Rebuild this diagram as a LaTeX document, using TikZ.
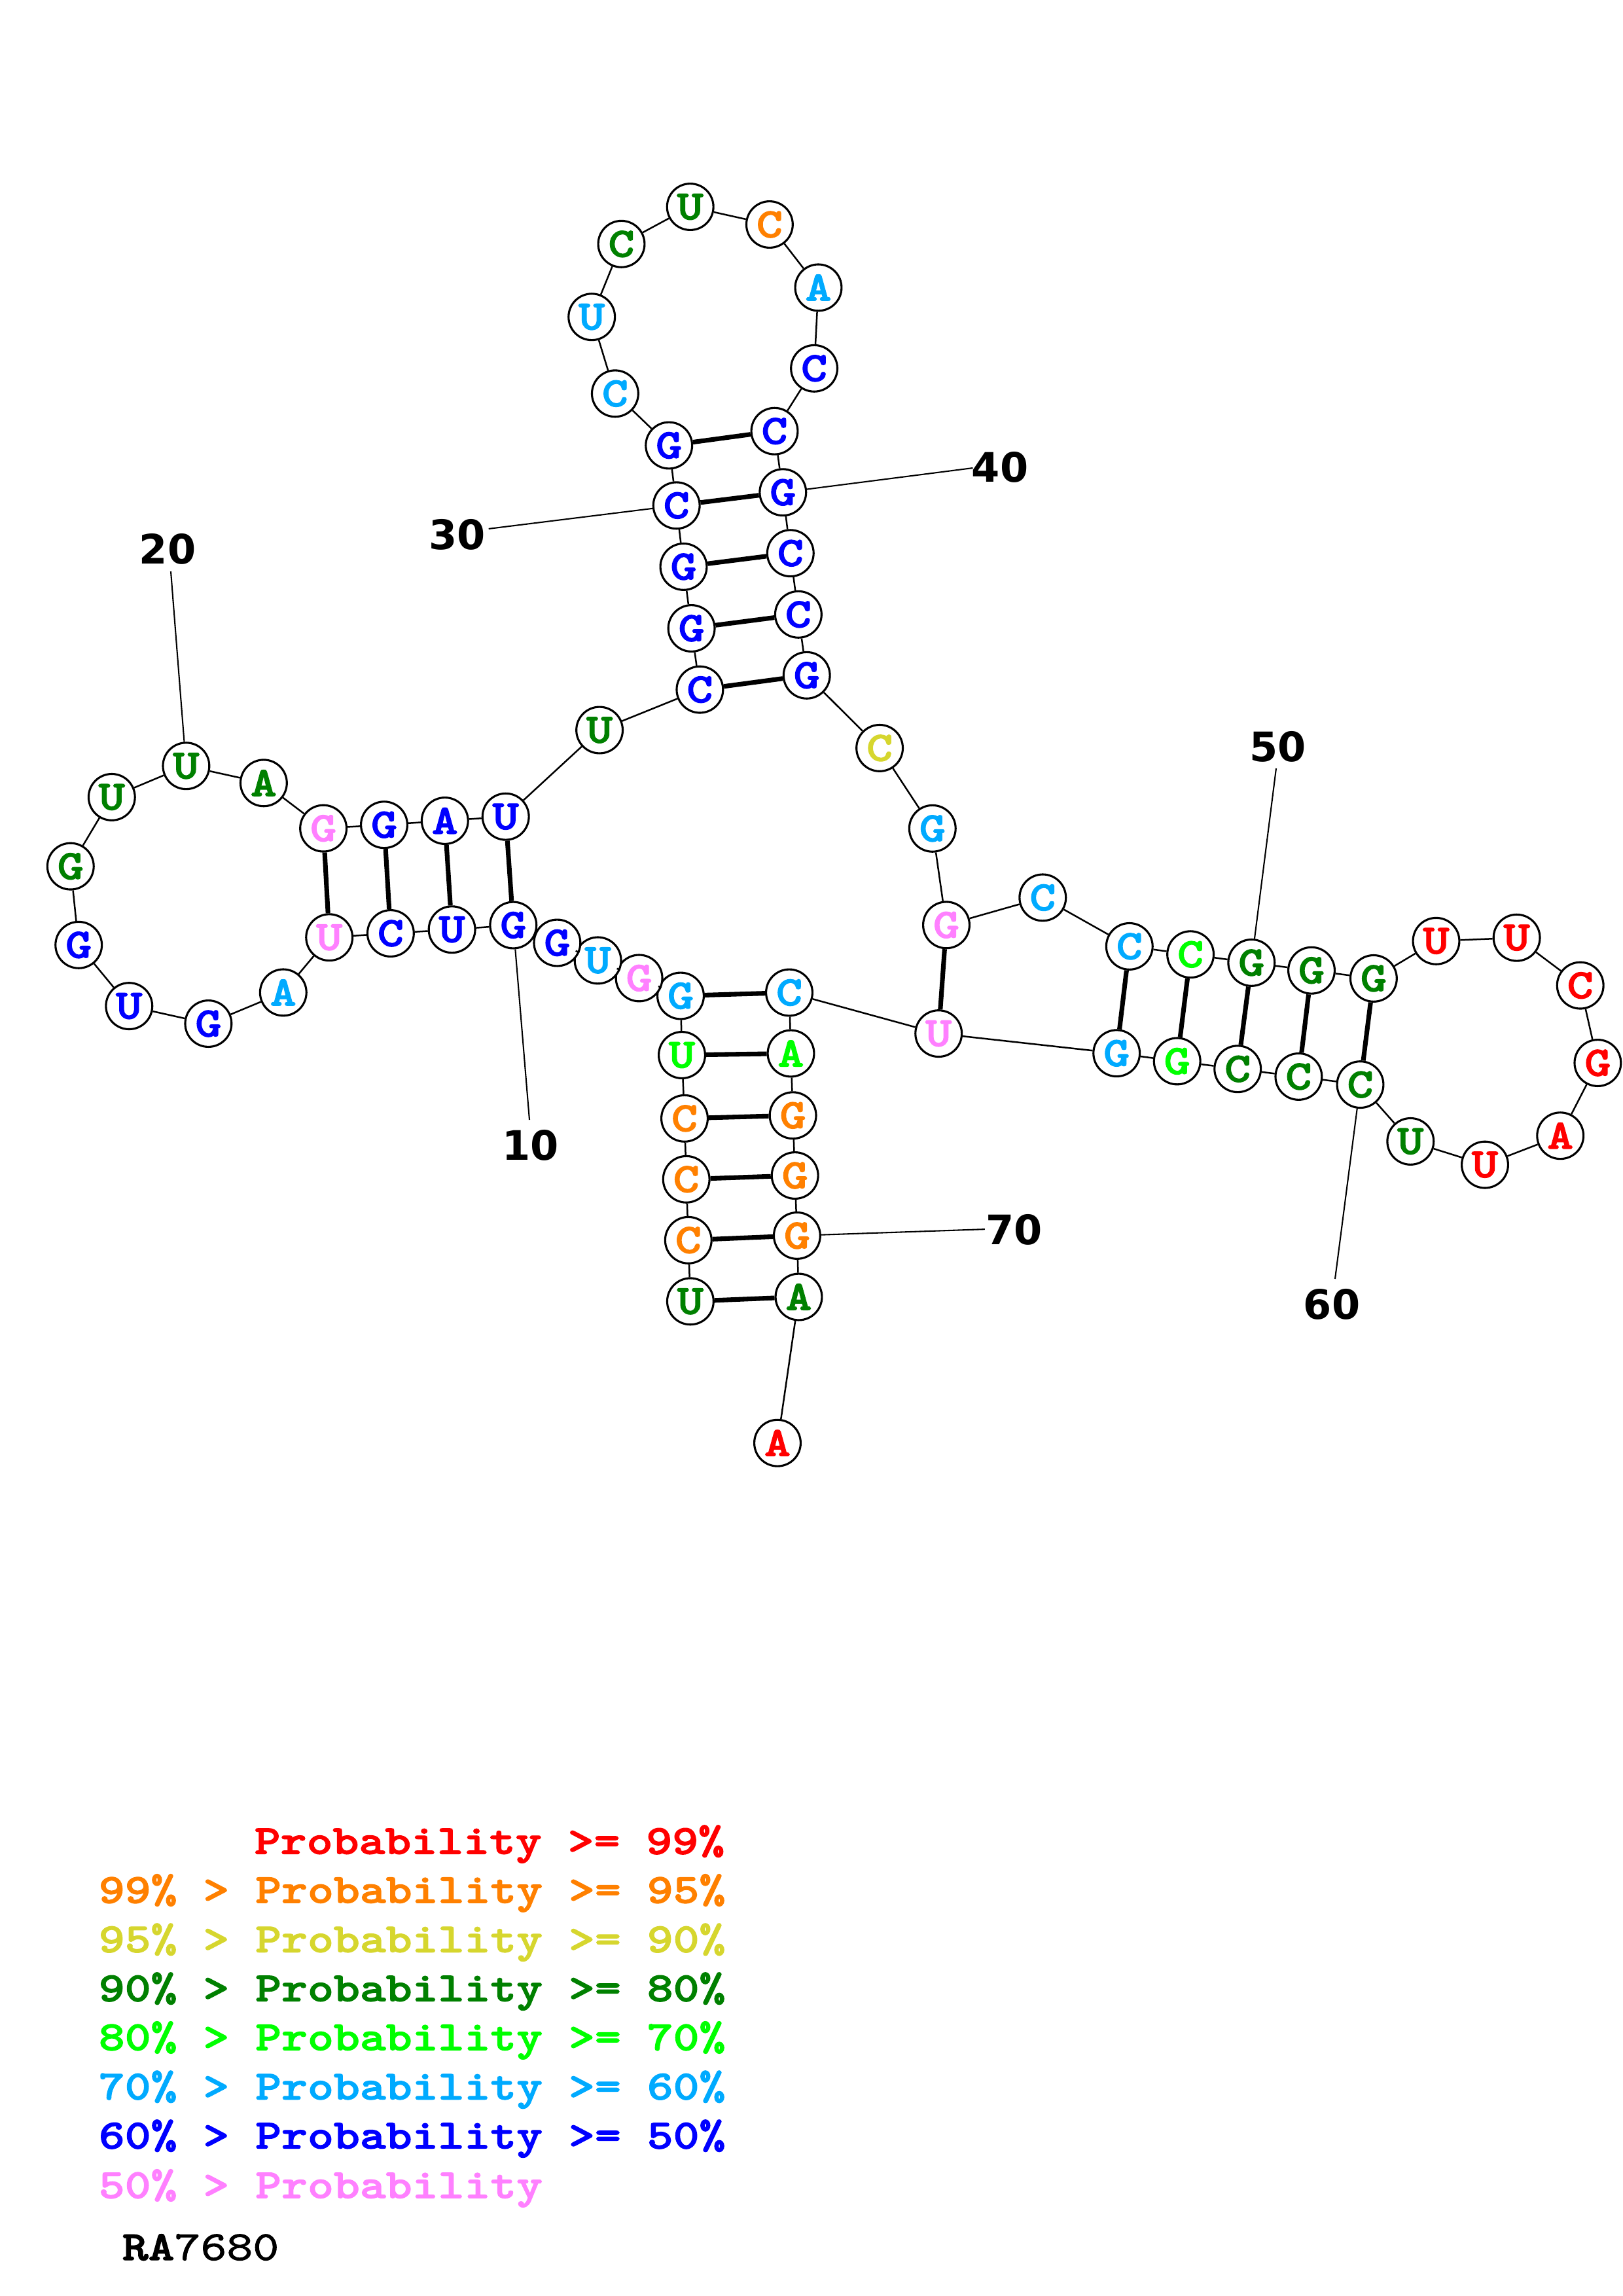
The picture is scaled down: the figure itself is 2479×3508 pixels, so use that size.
\documentclass[tikz,border=0pt]{standalone}
\usepackage{fontspec}
\newfontfamily\courbold{lmmonolt10-bold.otf}[FakeStretch=1.2,FakeBold=2]
\newfontfamily\courreg{lmmono10-regular.otf}[FakeStretch=1.2,FakeBold=1.5]
\newfontfamily\numfont{DejaVu Sans}
\definecolor{cR}{HTML}{FF0000}
\definecolor{cO}{HTML}{FF8000}
\definecolor{cY}{HTML}{D6D62E}
\definecolor{cDG}{HTML}{008000}
\definecolor{cLG}{HTML}{00FF00}
\definecolor{cLB}{HTML}{00AAFF}
\definecolor{cB}{HTML}{0000FF}
\definecolor{cP}{HTML}{FF80FF}
\begin{document}
\begin{tikzpicture}[x=0.24bp,y=-0.24bp,
  nt/.style={circle,draw,line width=0.75bp,fill=white,minimum size=17bp,inner sep=0pt,text=#1,
    font={\courbold\fontsize{15.3bp}{17bp}\selectfont}},
  bb/.style={line width=0.6bp},
  bpair/.style={line width=1.7bp},
  numlab/.style={inner sep=0pt,font={\numfont\bfseries\fontsize{14.9bp}{17bp}\selectfont}},
  numline/.style={line width=0.5bp},
  leg/.style={anchor=base west,inner sep=0pt,text=#1,font={\courbold\fontsize{15.2bp}{18bp}\selectfont}}]
\useasboundingbox (0,0) rectangle (2479,3508);
% nucleotides
\node[nt=cDG] (n1) at (1054.9,1988.3) {U};
\node[nt=cO]  (n2) at (1051.8,1894.8) {C};
\node[nt=cO]  (n3) at (1048.7,1801.8) {C};
\node[nt=cO]  (n4) at (1046.0,1708.8) {C};
\node[nt=cLG] (n5) at (1042.0,1612.0) {U};
\node[nt=cLB] (n6) at (1040.0,1521.5) {G};
\node[nt=cP]  (n7) at (976.6,1494.4) {G};
\node[nt=cLB] (n8) at (913.6,1467.4) {U};
\node[nt=cB]  (n9) at (851.4,1440.5) {G};
\node[nt=cB]  (n10) at (784.3,1413.5) {G};
\node[nt=cB]  (n11) at (690.6,1420.2) {U};
\node[nt=cB]  (n12) at (596.9,1426.0) {C};
\node[nt=cP]  (n13) at (503.2,1432.2) {U};
\node[nt=cLB] (n14) at (432.8,1516.4) {A};
\node[nt=cB]  (n15) at (318.4,1564.0) {G};
\node[nt=cB]  (n16) at (197.3,1537.1) {U};
\node[nt=cB]  (n17) at (120.2,1443.8) {G};
\node[nt=cDG] (n18) at (107.8,1323.6) {G};
\node[nt=cDG] (n19) at (170.8,1217.9) {U};
\node[nt=cDG] (n20) at (284.4,1170.2) {U};
\node[nt=cDG] (n21) at (402.9,1196.3) {A};
\node[nt=cP]  (n22) at (494.1,1265.6) {G};
\node[nt=cB]  (n23) at (587.0,1260.2) {G};
\node[nt=cB]  (n24) at (679.8,1254.0) {A};
\node[nt=cB]  (n25) at (772.7,1247.7) {U};
\node[nt=cDG] (n26) at (916.1,1115.5) {U};
\node[nt=cB]  (n27) at (1069.4,1053.6) {C};
\node[nt=cB]  (n28) at (1056.6,960.0) {G};
\node[nt=cB]  (n29) at (1044.5,865.9) {G};
\node[nt=cB]  (n30) at (1033.7,772.3) {C};
\node[nt=cB]  (n31) at (1022.2,680.5) {G};
\node[nt=cLB] (n32) at (939.9,601.3) {C};
\node[nt=cLB] (n33) at (904.2,484.2) {U};
\node[nt=cDG] (n34) at (949.5,372.8) {C};
\node[nt=cDG] (n35) at (1054.7,316.0) {U};
\node[nt=cO]  (n36) at (1175.9,343.0) {C};
\node[nt=cLB] (n37) at (1250.5,439.4) {A};
\node[nt=cB]  (n38) at (1244.1,562.8) {C};
\node[nt=cB]  (n39) at (1183.5,658.7) {C};
\node[nt=cB]  (n40) at (1196.3,752.2) {G};
\node[nt=cB]  (n41) at (1207.8,845.2) {C};
\node[nt=cB]  (n42) at (1219.9,938.8) {C};
\node[nt=cB]  (n43) at (1232.7,1031.8) {G};
\node[nt=cY]  (n44) at (1344.1,1142.9) {C};
\node[nt=cLB] (n45) at (1424.8,1265.8) {G};
\node[nt=cP]  (n46) at (1446.0,1413.3) {G};
\node[nt=cLB] (n47) at (1593.3,1371.4) {C};
\node[nt=cLB] (n48) at (1725.8,1445.9) {C};
\node[nt=cLG] (n49) at (1819.1,1458.2) {C};
\node[nt=cDG] (n50) at (1912.3,1470.9) {G};
\node[nt=cDG] (n51) at (2004.0,1482.7) {G};
\node[nt=cDG] (n52) at (2098.9,1494.9) {G};
\node[nt=cR]  (n53) at (2194.5,1437.8) {U};
\node[nt=cR]  (n54) at (2317.6,1432.7) {U};
\node[nt=cR]  (n55) at (2414.7,1505.6) {C};
\node[nt=cR]  (n56) at (2441.4,1624.0) {G};
\node[nt=cR]  (n57) at (2384.2,1735.2) {A};
\node[nt=cR]  (n58) at (2269.0,1779.6) {U};
\node[nt=cDG] (n59) at (2155.3,1743.9) {U};
\node[nt=cDG] (n60) at (2078.5,1657.1) {C};
\node[nt=cDG] (n61) at (1984.4,1644.9) {C};
\node[nt=cDG] (n62) at (1891.2,1633.2) {C};
\node[nt=cLG] (n63) at (1798.7,1621.4) {G};
\node[nt=cLB] (n64) at (1706.2,1609.2) {G};
\node[nt=cP]  (n65) at (1434.2,1579.1) {U};
\node[nt=cLB] (n66) at (1206.0,1516.5) {C};
\node[nt=cLG] (n67) at (1208.5,1609.5) {A};
\node[nt=cO]  (n68) at (1211.6,1704.2) {G};
\node[nt=cO]  (n69) at (1214.7,1796.0) {G};
\node[nt=cO]  (n70) at (1217.9,1887.9) {G};
\node[nt=cDG] (n71) at (1220.5,1981.5) {A};
\node[nt=cR]  (n72) at (1188.0,2204.7) {A};
% backbone
\foreach \i in {1,...,71}{
  \pgfmathtruncatemacro{\j}{\i+1}
  \draw[bb] (n\i) -- (n\j);
}
% base pairs
\foreach \a/\b in {1/71,2/70,3/69,4/68,5/67,6/66,10/25,11/24,12/23,13/22,
  27/43,28/42,29/41,30/40,31/39,46/65,48/64,49/63,50/62,51/61,52/60}{
  \draw[bpair] (n\a) -- (n\b);
}
% numbering
\coordinate (c10) at (809,1711);
\coordinate (c20) at (261,873);
\coordinate (c30) at (746.7,807.9);
\coordinate (c40) at (1486.5,715.0);
\coordinate (c50) at (1950,1174);
\coordinate (c60) at (2040,1954);
\coordinate (c70) at (1504.9,1878.1);
\foreach \k in {10,20,30,40,50,60,70}{
  \draw[numline] (n\k) -- (c\k);
}
\node[numlab] (l10) at (810.5,1750) {10};
\node[numlab] (l20) at (256,839) {20};
\node[numlab] (l30) at (698.9,817) {30};
\node[numlab] (l40) at (1528,713.5) {40};
\node[numlab] (l50) at (1952.7,1140.6) {50};
\node[numlab] (l60) at (2035,1992.5) {60};
\node[numlab] (l70) at (1549.6,1879) {70};
% legend
\node[leg=cR]  (g1) at (388,2832.5) {Probability >= 99\%};
\node[leg=cO]  (g2) at (150,2907.3) {99\% > Probability >= 95\%};
\node[leg=cY]  (g3) at (150,2982.6) {95\% > Probability >= 90\%};
\node[leg=cDG] (g4) at (150,3057.5) {90\% > Probability >= 80\%};
\node[leg=cLG] (g5) at (150,3132.3) {80\% > Probability >= 70\%};
\node[leg=cLB] (g6) at (150,3207.6) {70\% > Probability >= 60\%};
\node[leg=cB]  (g7) at (150,3282.5) {60\% > Probability >= 50\%};
\node[leg=cP]  (g8) at (150,3358.3) {50\% > Probability};
\node[leg=black] (id) at (186,3453) {RA{\courreg 7680}};
\end{tikzpicture}
\end{document}
